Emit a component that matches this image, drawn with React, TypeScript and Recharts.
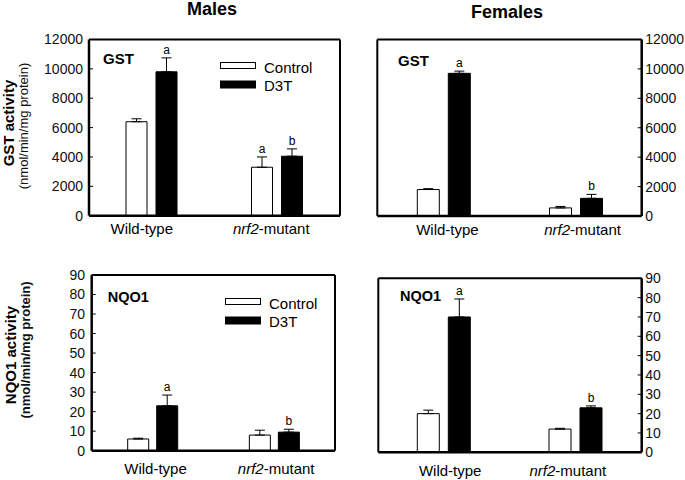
import { BarChart, Bar, XAxis, YAxis, ErrorBar, LabelList, Legend, CartesianGrid } from 'recharts';

const FONT = '"Liberation Sans", Arial, Helvetica, sans-serif';

const categories = ['Wild-type', 'nrf2-mutant'];

const gstTicks = [0, 2000, 4000, 6000, 8000, 10000, 12000];
const nqoTicks = [0, 10, 20, 30, 40, 50, 60, 70, 80, 90];

// Males, GST
const maleGstControl = [6400, 3300];
const maleGstControlErr = [200, 700];
const maleGstD3T = [9800, 4050];
const maleGstD3TErr = [950, 500];
const maleGstControlSig = ['', 'a'];
const maleGstD3TSig = ['a', 'b'];

// Females, GST
const femaleGstControl = [1800, 550];
const femaleGstControlErr = [60, 100];
const femaleGstD3T = [9700, 1200];
const femaleGstD3TErr = [150, 270];
const femaleGstControlSig = ['', ''];
const femaleGstD3TSig = ['a', 'b'];

// Males, NQO1
const maleNqoControl = [6, 8];
const maleNqoControlErr = [0.4, 2.5];
const maleNqoD3T = [23, 9.5];
const maleNqoD3TErr = [5.5, 1.5];
const maleNqoControlSig = ['', ''];
const maleNqoD3TSig = ['a', 'b'];

// Females, NQO1
const femaleNqoControl = [20, 12];
const femaleNqoControlErr = [1.8, 0.4];
const femaleNqoD3T = [70, 23];
const femaleNqoD3TErr = [9.3, 1];
const femaleNqoControlSig = ['', ''];
const femaleNqoD3TSig = ['a', 'b'];

function CategoryTick(props: any) {
  const { x, y, payload, index, dxs } = props;
  const label = String(payload.value);
  const m = label.match(/^(nrf2)(.*)$/);
  return (
    <text
      x={x + (dxs?.[index] ?? 0)}
      y={y}
      dy="0.71em"
      textAnchor="middle"
      fontFamily={FONT}
      fontSize={15}
      fill="#000"
    >
      {m ? (
        <>
          <tspan fontStyle="italic">{m[1]}</tspan>
          <tspan>{m[2]}</tspan>
        </>
      ) : (
        label
      )}
    </text>
  );
}

// letter drawn just above the error bar cap
const sigLabel = (vals: number[], errs: number[], sigs: string[]) => (p: any) => {
  const idx = p.index;
  const s = sigs[idx];
  if (!s) return null;
  const vb = p.viewBox ?? p;
  const x = Number(vb.x);
  const y = Number(vb.y);
  const w = Number(vb.width);
  const h = Number(vb.height);
  const topY = Math.min(y, y + h);
  const per = Math.abs(h) / vals[idx];
  const capY = topY - errs[idx] * per;
  return (
    <text x={x + w / 2} y={capY - 4} textAnchor="middle" fontFamily={FONT} fontSize={12} fill="#000">
      {s}
    </text>
  );
};

const renderLegend = (props: any) => {
  const items = props.payload || [];
  const names = items.map((it: any) => it.value);
  return (
    <svg width={110} height={40} style={{ display: 'block', overflow: 'visible' }}>
      <rect x={0.5} y={5.5} width={35} height={6} fill="#fff" stroke="#000" strokeWidth={1} />
      <text x={44} y={15.5} fontFamily={FONT} fontSize={15} fill="#000">
        {names[0]}
      </text>
      <rect x={0} y={23.5} width={36} height={8} fill="#000" />
      <text x={44} y={33.5} fontFamily={FONT} fontSize={15} fill="#000">
        {names[1]}
      </text>
    </svg>
  );
};

interface PanelProps {
  left: number;
  top: number;
  width: number;
  height: number;
  margin: { top: number; right: number; bottom: number; left: number };
  side: 'left' | 'right';
  axisWidth: number;
  xAxisHeight: number;
  max: number;
  ticks: number[];
  control: number[];
  controlErr: number[];
  d3t: number[];
  d3tErr: number[];
  controlSig: string[];
  d3tSig: string[];
  barSize: number;
  barGap: number;
  labelDx: number[];
  labelMargin: number;
  tickMargin: number;
  legendPos?: { left: number; top: number };
}

function Panel(props: PanelProps) {
  const {
    left, top, width, height, margin, side, axisWidth, xAxisHeight, max, ticks,
    control, controlErr, d3t, d3tErr, controlSig, d3tSig, barSize, barGap,
    labelDx, labelMargin, tickMargin, legendPos,
  } = props;

  const data = categories.map((name, i) => ({
    name,
    control: control[i],
    controlErr: [0, controlErr[i]],
    d3t: d3t[i],
    d3tErr: [0, d3tErr[i]],
  }));

  // top edge and the far side edge of the frame
  const topEdge = ({ offset }: any) => [offset.top];
  const farEdge = ({ offset }: any) => [side === 'left' ? offset.left + offset.width : offset.left];

  return (
    <div style={{ position: 'absolute', left, top, width, height }}>
      <BarChart width={width} height={height} data={data} margin={margin} barSize={barSize} barGap={barGap}>
        <CartesianGrid
          xAxisId="bottom"
          yAxisId="value"
          stroke="#000"
          strokeWidth={2}
          horizontalCoordinatesGenerator={topEdge}
          verticalCoordinatesGenerator={farEdge}
        />
        <XAxis
          xAxisId="bottom"
          dataKey="name"
          orientation="bottom"
          height={xAxisHeight}
          axisLine={{ stroke: '#000', strokeWidth: 2.5 }}
          tickLine={false}
          tickSize={0}
          tickMargin={labelMargin}
          interval={0}
          tick={<CategoryTick dxs={labelDx} />}
        />
        <YAxis
          yAxisId="value"
          orientation={side}
          width={axisWidth}
          type="number"
          domain={[0, max]}
          ticks={ticks}
          interval={0}
          axisLine={{ stroke: '#000', strokeWidth: 2.5 }}
          tickLine={{ stroke: '#000', strokeWidth: 1 }}
          tickSize={-4}
          tickMargin={tickMargin}
          tick={{ fill: '#111', fontSize: 14, fontFamily: FONT }}
        />
        <Bar
          xAxisId="bottom"
          yAxisId="value"
          dataKey="control"
          name="Control"
          fill="#fff"
          stroke="#000"
          strokeWidth={1}
          isAnimationActive={false}
        >
          <ErrorBar dataKey="controlErr" direction="y" width={5} stroke="#000" strokeWidth={1} />
          <LabelList dataKey="control" content={sigLabel(control, controlErr, controlSig)} />
        </Bar>
        <Bar
          xAxisId="bottom"
          yAxisId="value"
          dataKey="d3t"
          name="D3T"
          fill="#000"
          stroke="#000"
          strokeWidth={1}
          isAnimationActive={false}
        >
          <ErrorBar dataKey="d3tErr" direction="y" width={5} stroke="#000" strokeWidth={1} />
          <LabelList dataKey="d3t" content={sigLabel(d3t, d3tErr, d3tSig)} />
        </Bar>
        {legendPos && (
          <Legend
            layout="horizontal"
            verticalAlign="middle"
            align="center"
            content={renderLegend}
            wrapperStyle={{ left: legendPos.left, top: legendPos.top, width: 110, height: 40 }}
          />
        )}
      </BarChart>
    </div>
  );
}

export default function App() {
  return (
    <div
      style={{
        position: 'absolute',
        left: 0,
        top: 0,
        width: 685,
        height: 480,
        background: '#fff',
        fontFamily: FONT,
        overflow: 'hidden',
      }}
    >
      <Panel
        left={0}
        top={0}
        width={345}
        height={245}
        margin={{ top: 39.5, right: 5, bottom: 0, left: 0 }}
        side="left"
        axisWidth={89}
        xAxisHeight={29.3}
        max={12000}
        ticks={gstTicks}
        control={maleGstControl}
        controlErr={maleGstControlErr}
        d3t={maleGstD3T}
        d3tErr={maleGstD3TErr}
        controlSig={maleGstControlSig}
        d3tSig={maleGstD3TSig}
        barSize={21}
        barGap={9}
        labelDx={[-10, -6]}
        labelMargin={8}
        tickMargin={10}
        legendPos={{ left: 220, top: 57 }}
      />
      <Panel
        left={340}
        top={0}
        width={345}
        height={245}
        margin={{ top: 39.5, right: 0, bottom: 0, left: 37.3 }}
        side="right"
        axisWidth={43.3}
        xAxisHeight={29}
        max={12000}
        ticks={gstTicks}
        control={femaleGstControl}
        controlErr={femaleGstControlErr}
        d3t={femaleGstD3T}
        d3tErr={femaleGstD3TErr}
        controlSig={femaleGstControlSig}
        d3tSig={femaleGstD3TSig}
        barSize={22}
        barGap={9}
        labelDx={[4, 7]}
        labelMargin={8}
        tickMargin={7.5}
      />
      <Panel
        left={0}
        top={250}
        width={345}
        height={230}
        margin={{ top: 25, right: 10, bottom: 0, left: 0 }}
        side="left"
        axisWidth={91.7}
        xAxisHeight={29.3}
        max={90}
        ticks={nqoTicks}
        control={maleNqoControl}
        controlErr={maleNqoControlErr}
        d3t={maleNqoD3T}
        d3tErr={maleNqoD3TErr}
        controlSig={maleNqoControlSig}
        d3tSig={maleNqoD3TSig}
        barSize={21}
        barGap={8}
        labelDx={[3, 2]}
        labelMargin={13}
        tickMargin={10.7}
        legendPos={{ left: 225, top: 42.5 }}
      />
      <Panel
        left={340}
        top={250}
        width={345}
        height={230}
        margin={{ top: 28.3, right: 0, bottom: 0, left: 38.3 }}
        side="right"
        axisWidth={43.3}
        xAxisHeight={27.7}
        max={90}
        ticks={nqoTicks}
        control={femaleNqoControl}
        controlErr={femaleNqoControlErr}
        d3t={femaleNqoD3T}
        d3tErr={femaleNqoD3TErr}
        controlSig={femaleNqoControlSig}
        d3tSig={femaleNqoD3TSig}
        barSize={22}
        barGap={9}
        labelDx={[6, -8]}
        labelMargin={13}
        tickMargin={7.5}
      />

      <svg
        width={685}
        height={480}
        style={{ position: 'absolute', left: 0, top: 0, pointerEvents: 'none' }}
        fontFamily={FONT}
      >
        <text x={212} y={15} textAnchor="middle" fontSize={18} fontWeight="bold" fill="#000">
          Males
        </text>
        <text x={507} y={18.3} textAnchor="middle" fontSize={18} fontWeight="bold" fill="#000">
          Females
        </text>

        <text x={14} y={123} transform="rotate(-90 14 123)" textAnchor="middle" fontSize={15} fontWeight="bold" fill="#000">
          GST activity
        </text>
        <text x={28} y={126} transform="rotate(-90 28 126)" textAnchor="middle" fontSize={13} fill="#111">
          (nmol/min/mg protein)
        </text>
        <text x={16} y={355} transform="rotate(-90 16 355)" textAnchor="middle" fontSize={15} fontWeight="bold" fill="#000">
          NQO1 activity
        </text>
        <text x={29.5} y={350} transform="rotate(-90 29.5 350)" textAnchor="middle" fontSize={13} fontWeight="bold" fill="#111">
          (nmol/min/mg protein)
        </text>

        <text x={103} y={63.5} fontSize={15} fontWeight="bold" fill="#000">GST</text>
        <text x={398} y={65.5} fontSize={15} fontWeight="bold" fill="#000">GST</text>
        <text x={107.7} y={302} fontSize={14.5} fontWeight="bold" fill="#000">NQO1</text>
        <text x={400} y={300.5} fontSize={14.5} fontWeight="bold" fill="#000">NQO1</text>
      </svg>
    </div>
  );
}
